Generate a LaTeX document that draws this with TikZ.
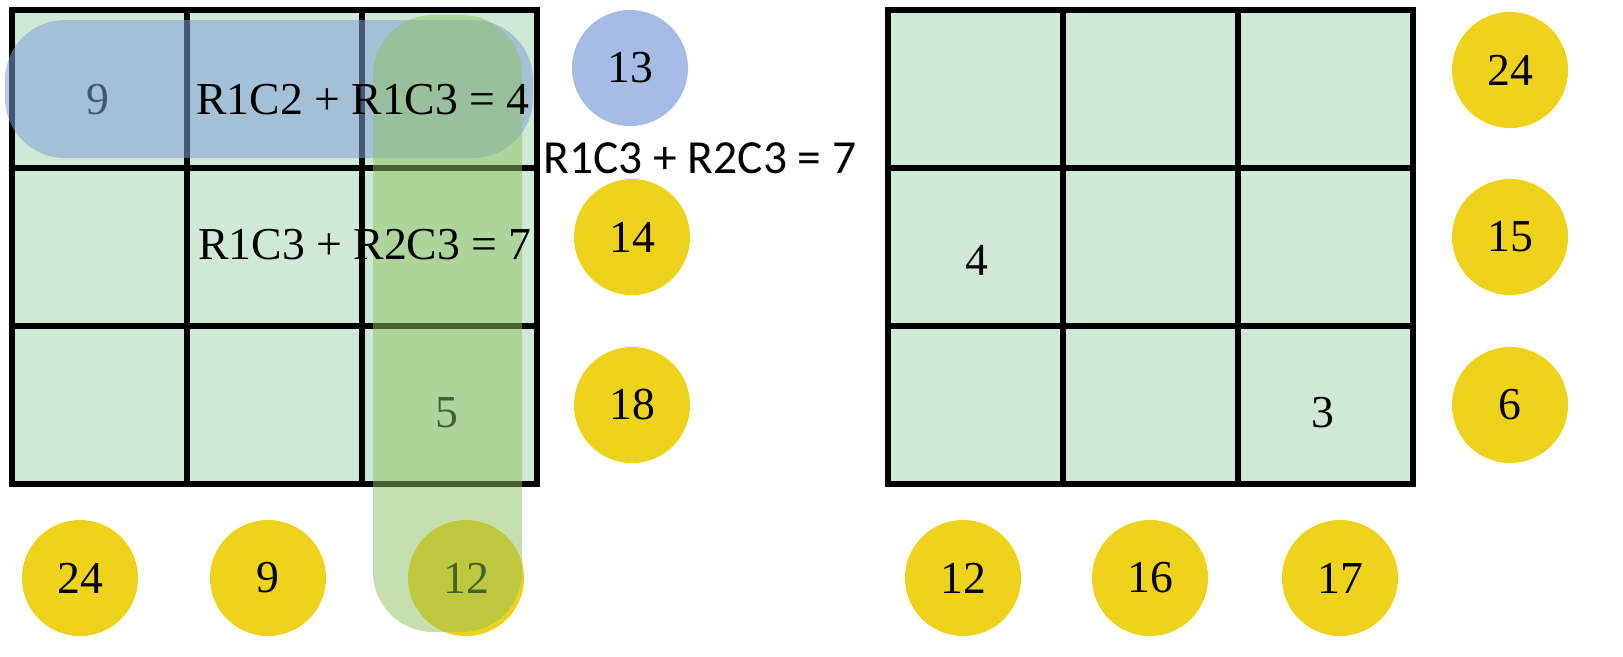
\documentclass[tikz,border=0pt]{standalone}
\usepackage{fontspec}
\setmainfont{Liberation Serif}
\newfontfamily\labelfont{Carlito}
\usetikzlibrary{positioning}
\definecolor{cellgreen}{HTML}{CFE9D6}
\definecolor{coinyellow}{HTML}{EFD21C}
\definecolor{bandblue}{HTML}{7F9FD8}
\definecolor{bandgreen}{HTML}{8CC060}
\begin{document}
\begin{tikzpicture}[
    x=0.01cm, y=-0.01cm,
    cell/.style={draw, line width=1.6pt, fill=cellgreen},
    coin/.style={circle, fill=coinyellow, minimum size=1.16cm, inner sep=0pt, font=\fontsize{13}{13}\selectfont},
    bluecoin/.style={coin, fill=bandblue!70},
    digit/.style={font=\fontsize{13}{13}\selectfont},
    eqn/.style={font=\fontsize{13}{13}\selectfont},
    band/.style={rounded corners=0.6cm, opacity=0.55}
]
\useasboundingbox (0,0) rectangle (1623,656);

% Grids
\foreach \x in {12,187,362} \foreach \y in {10,168,326}
  \draw[cell] (\x,\y) rectangle ++(175,158);
\foreach \x in {888,1063,1238} \foreach \y in {10,168,326}
  \draw[cell] (\x,\y) rectangle ++(175,158);

% Given digits
\node[digit] (d9) at (98,100) {9};
\node[digit] (d5) at (447,413) {5};
\node[digit] (d4) at (977,260) {4};
\node[digit] (d3) at (1323,413) {3};

% Left clues
\node[bluecoin] (c13) at (630,68) {13};
\node[coin] (c14) at (632,237) {14};
\node[coin] (c18) at (632,405) {18};
\node[coin] (c24) at (80,578) {24};
\node[coin] (c9) at (268,578) {9};
\node[coin] (c12) at (466,578) {12};

% Right clues
\node[coin] (r24) at (1510,70) {24};
\node[coin] (r15) at (1510,237) {15};
\node[coin] (r6) at (1510,405) {6};
\node[coin] (b12) at (963,578) {12};
\node[coin] (b16) at (1150,578) {16};
\node[coin] (b17) at (1340,578) {17};

% Highlight bands
\fill[band, bandblue] (5,20) rectangle (533,158);
\fill[band, bandgreen, opacity=0.5] (373,15) rectangle (522,632);

% Equations
\node[eqn] (eq1) at (363,100) {R1C2 + R1C3 = 4};
\node[eqn] (eq2) at (365,245) {R1C3 + R2C3 = 7};
\node[eqn, font=\labelfont\fontsize{13.5}{13.5}\selectfont] (eq3) at (700,158) {R1C3 + R2C3 = 7};
\end{tikzpicture}
\end{document}
